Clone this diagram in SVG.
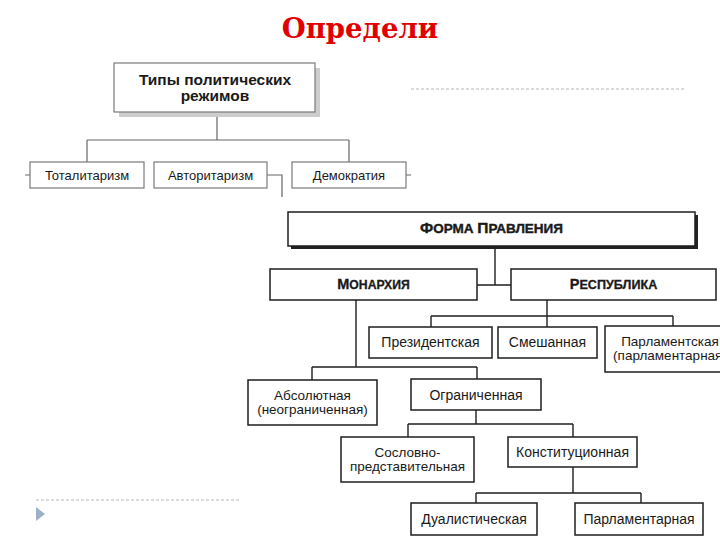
<svg xmlns="http://www.w3.org/2000/svg" width="720" height="540" viewBox="0 0 720 540">
<style>
.t{font-family:"Liberation Sans",Arial,sans-serif;fill:#1a1a1a;text-anchor:middle}
.s{font-size:13px}
.m{font-size:14px}
.m2{font-size:13.5px}
.b{font-weight:bold}
.gb{fill:#fff;stroke:#7a7a7a;stroke-width:1.2}
.kb{fill:#fff;stroke:#1e1e1e;stroke-width:1.5}
.gl{fill:none;stroke:#666;stroke-width:1.2}
.kl{fill:none;stroke:#1e1e1e;stroke-width:1.4}
.dash{fill:none;stroke:#b8b8b8;stroke-width:1.2;stroke-dasharray:3 2}
</style>
<rect width="720" height="540" fill="#fff"/>
<text x="360" y="38" font-family="'DejaVu Serif','Liberation Serif',serif" font-weight="bold" font-size="27.5" fill="#e00000" text-anchor="middle">Определи</text>
<line class="dash" x1="411" y1="89" x2="684" y2="89"/>
<line class="dash" x1="36" y1="500" x2="239" y2="500"/>
<polygon points="36,507 45,514 36,521" fill="#9db1c9"/>
<g id="connectors">
<path class="gl" d="M217,112 V140 M87,140 H349 M87,140 V162 M349,140 V162 M25,175 H30 M406,175 H411 M267,175 H282 V197"/>
<path class="kl" d="M495,247 V285 M477,285 H511"/>
<path class="kl" d="M356,300 V367 M312,367 H477 M312,367 V380 M477,367 V379"/>
<path class="kl" d="M547,300 V327 M431,316 H673 M431,316 V327 M673,316 V326"/>
<path class="kl" d="M476,410 V424 M408,424 H573 M408,424 V437 M573,424 V437"/>
<path class="kl" d="M573,467 V493 M476,493 H641 M476,493 V503 M641,493 V503"/>
</g>
<g id="types">
<rect x="119" y="68" width="201" height="49" fill="#cdcdcd"/>
<rect class="gb" x="114" y="63" width="201" height="49" stroke="#555"/>
<text class="t b" font-size="15.5" x="215" y="85">Типы политических</text>
<text class="t b" font-size="15.5" x="215" y="101">режимов</text>
</g>
<g id="totalitarism"><rect class="gb" x="30" y="162" width="114" height="26"/><text class="t s" x="87" y="180">Тоталитаризм</text></g>
<g id="authoritarism"><rect class="gb" x="154" y="162" width="113" height="26"/><text class="t s" x="210.5" y="180">Авторитаризм</text></g>
<g id="democracy"><rect class="gb" x="292" y="162" width="114" height="26"/><text class="t s" x="349" y="180">Демократия</text></g>
<g id="forma">
<rect x="291" y="215" width="407" height="34" fill="#222"/>
<rect class="kb" x="288" y="212" width="407" height="34" stroke-width="2"/>
<text class="t b" font-size="13.5" x="491.5" y="233" stroke="#1a1a1a" stroke-width="0.4"><tspan font-size="15.5">Ф</tspan>ОРМА <tspan font-size="15.5">П</tspan>РАВЛЕНИЯ</text>
</g>
<g id="monarchy"><rect class="kb" x="270" y="269" width="207" height="31"/><text class="t b" font-size="12.2" x="373.5" y="289" stroke="#1a1a1a" stroke-width="0.3"><tspan font-size="14.5">М</tspan>ОНАРХИЯ</text></g>
<g id="republic"><rect class="kb" x="511" y="269" width="205" height="31"/><text class="t b" font-size="12.6" x="613.5" y="289" stroke="#1a1a1a" stroke-width="0.3"><tspan font-size="14.5">Р</tspan>ЕСПУБЛИКА</text></g>
<g id="presidential"><rect class="kb" x="369" y="327" width="123" height="31"/><text class="t m" x="430.5" y="347">Президентская</text></g>
<g id="mixed"><rect class="kb" x="498" y="327" width="99" height="31"/><text class="t m" x="547.5" y="347">Смешанная</text></g>
<g id="parliamentary-rep"><rect class="kb" x="605" y="326" width="140" height="46"/><text class="t m2" x="670" y="346">Парламентская</text><text class="t m2" x="670" y="360">(парламентарная)</text></g>
<g id="absolute"><rect class="kb" x="248" y="380" width="129" height="45"/><text class="t m2" x="312.5" y="400">Абсолютная</text><text class="t m2" x="312.5" y="414">(неограниченная)</text></g>
<g id="limited"><rect class="kb" x="411" y="379" width="130" height="31"/><text class="t m" x="476" y="400">Ограниченная</text></g>
<g id="estate"><rect class="kb" x="341" y="437" width="133" height="45"/><text class="t m2" x="407.5" y="457">Сословно-</text><text class="t m2" x="407.5" y="471">представительная</text></g>
<g id="constitutional"><rect class="kb" x="508" y="437" width="129" height="30"/><text class="t m" x="572.5" y="457">Конституционная</text></g>
<g id="dualistic"><rect class="kb" x="411" y="503" width="126" height="32"/><text class="t m" x="474" y="524">Дуалистическая</text></g>
<g id="parliamentary-mon"><rect class="kb" x="575" y="503" width="128" height="32"/><text class="t m" x="639" y="524">Парламентарная</text></g>
</svg>
